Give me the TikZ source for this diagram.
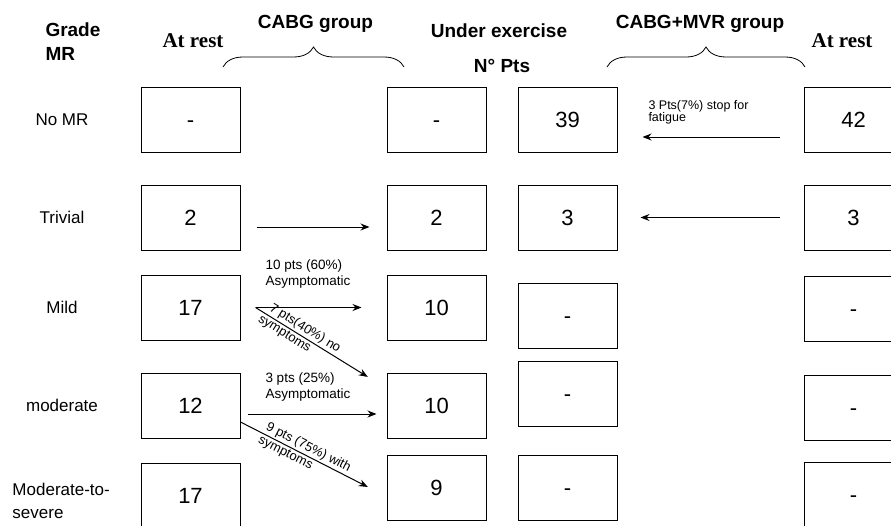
\documentclass[tikz,border=0pt]{standalone}
\usepackage{fontspec}
\setmainfont{Liberation Sans}
\newfontfamily\restfont{Liberation Serif}
\usetikzlibrary{arrows.meta,decorations.pathreplacing}

\tikzset{
  cell/.style={draw, inner sep=0pt, minimum width=99pt, minimum height=65pt,
    text height=16pt, text depth=0pt, font=\fontsize{22}{24}\selectfont},
  grade/.style={font=\fontsize{17}{23}\selectfont},
  head/.style={font=\fontsize{19}{24}\selectfont\bfseries, anchor=base},
  rest/.style={font=\restfont\fontsize{21}{24}\selectfont\bfseries, anchor=base},
  note/.style={font=\fontsize{13.5}{16}\selectfont, align=left, inner sep=0pt, anchor=north west},
  lbl/.style={font=\fontsize{13}{14}\selectfont, sloped, inner sep=1.5pt},
  grp/.style={-, decorate, decoration={brace, amplitude=20pt}, line width=0.8pt},
}

\begin{document}
\begin{tikzpicture}[->,>={Stealth[length=9pt,width=7pt]},x=1pt,y=-1pt,line width=1pt]
    \path[use as bounding box, clip] (0,0) rectangle (891,525);

    % headings
    \node[head, align=left, anchor=north west, inner sep=0pt] (grade) at (45,22) {Grade\\MR};
    \node[rest] (rest1) at (193,47) {At rest};
    \node[head] (cabg)  at (315.5,28) {CABG group};
    \node[head] (exer)  at (499,37) {Under exercise};
    \node[head] (npts)  at (502,72) {N° Pts};
    \node[head] (mvr)   at (700,28) {CABG+MVR group};
    \node[rest] (rest2) at (842,47) {At rest};
    \draw[grp] (223,67) -- (404,67);
    \draw[grp] (607,67) -- (805,67);

    % grades
    \node[grade] (nomr)  at (62,119.5) {No MR};
    \node[grade] (triv)  at (62,217.5) {Trivial};
    \node[grade] (mild)  at (62,307.5) {Mild};
    \node[grade] (mod)   at (62,405.5) {moderate};
    \node[grade, align=left, anchor=west, inner sep=0pt] (sev) at (12,500.5) {Moderate-to-\\severe};

    % boxes
    \node[cell] (r1c1) at (190.5,119.5) {-};
    \node[cell] (r1c2) at (436.5,119.5) {-};
    \node[cell] (r1c3) at (567.5,119.5) {39};
    \node[cell] (r1c4) at (853.5,119.5) {42};

    \node[cell] (r2c1) at (190.5,217.5) {2};
    \node[cell] (r2c2) at (436.5,217.5) {2};
    \node[cell] (r2c3) at (567.5,217.5) {3};
    \node[cell] (r2c4) at (853.5,217.5) {3};

    \node[cell] (r3c1) at (190.5,307.5) {17};
    \node[cell] (r3c2) at (436.5,307.5) {10};
    \node[cell] (r3c3) at (567.5,315.5) {-};
    \node[cell] (r3c4) at (853.5,308.5) {-};

    \node[cell] (r4c1) at (190.5,405.5) {12};
    \node[cell] (r4c2) at (436.5,405.5) {10};
    \node[cell] (r4c3) at (567.5,393.5) {-};
    \node[cell] (r4c4) at (853.5,407.5) {-};

    \node[cell] (r5c1) at (190.5,495.5) {17};
    \node[cell] (r5c2) at (436.5,487.5) {9};
    \node[cell] (r5c3) at (567.5,487.5) {-};
    \node[cell] (r5c4) at (853.5,494.5) {-};

    % CABG group
    \path ([yshift=-9.5pt]r2c1.east) edge[shorten <=16pt, shorten >=17pt] ([yshift=-9.5pt]r2c2.west);
    \node[note] (asy1) at (265,259) {10 pts (60\%)\\Asymptomatic};
    \path ([xshift=15pt]r3c1.east) edge[shorten >=25pt] (r3c2.west);
    \path ([xshift=15pt]r3c1.east) edge[shorten >=22pt]
      node[lbl, above, pos=0.345] {7 pts(40\%) no}
      node[lbl, below, pos=0.25] {symptoms} ([yshift=17pt]r4c2.west);
    \node[note] (asy2) at (265,372) {3 pts (25\%)\\Asymptomatic};
    \path ([yshift=-8.5pt]r4c1.east) edge[shorten <=7pt, shorten >=10pt] ([yshift=-8.5pt]r4c2.west);
    \path ([yshift=-16.5pt]r4c1.east) edge[shorten >=21pt]
      node[lbl, above, pos=0.44] {9 pts (75\%) with}
      node[lbl, below, pos=0.33] {symptoms} ([yshift=-9pt]r5c2.west);

    % CABG+MVR group
    \node[note, font=\fontsize{12.5}{12}\selectfont] (fatig) at (648,100) {3 Pts(7\%) stop for\\fatigue};
    \path ([yshift=-17.5pt]r1c4.west) edge[shorten <=24pt, shorten >=25pt] ([yshift=-17.5pt]r1c3.east);
    \path (r2c4.west) edge[shorten <=24pt, shorten >=23pt] (r2c3.east);
\end{tikzpicture}
\end{document}
